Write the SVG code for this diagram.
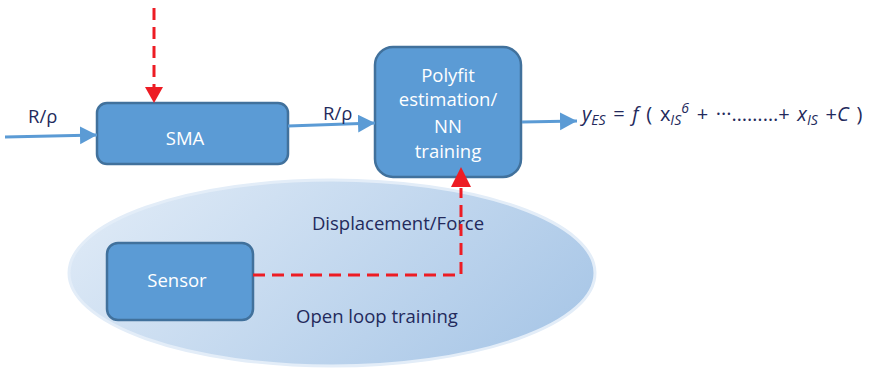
<svg xmlns="http://www.w3.org/2000/svg" width="870" height="372" viewBox="0 0 870 372">
  <defs>
    <linearGradient id="loopFill" x1="0" y1="0.3" x2="1" y2="0.7">
      <stop offset="0" stop-color="#dde9f6"/>
      <stop offset="1" stop-color="#a9c7e7"/>
    </linearGradient>
    <marker id="blueHead" markerUnits="userSpaceOnUse" markerWidth="20" markerHeight="20" refX="17" refY="9" orient="auto">
      <path d="M0,0 L17,9 L0,18 Z" fill="#5b9bd5"/>
    </marker>
  </defs>
  <style>
    .box { fill: #5b9bd5; stroke: #41719c; stroke-width: 2.5; }
    .boxText { fill: #ffffff; font-family: "Open Sans", "Noto Sans", sans-serif; font-size: 18.5px; text-anchor: middle; }
    .label { fill: #232a5c; font-family: "Open Sans", "Noto Sans", sans-serif; font-size: 18.5px; }
    .formula { fill: #232a5c; font-family: "Open Sans", "Noto Sans", sans-serif; font-size: 20px; word-spacing: 2.5px; }
    .flow { stroke: #5b9bd5; stroke-width: 3; fill: none; marker-end: url(#blueHead); }
    .signal { stroke: #ed1c24; stroke-width: 3; fill: none; stroke-dasharray: 12 7; }
    .sub { font-style: italic; font-size: 14px; }
  </style>

  <!-- open loop training region -->
  <g id="openLoop">
    <ellipse cx="332" cy="273" rx="263" ry="93" fill="url(#loopFill)" stroke="#e3edf8" stroke-width="3"/>
    <text class="label" x="398" y="230" text-anchor="middle">Displacement/Force</text>
    <text class="label" x="377" y="323" text-anchor="middle">Open loop training</text>
  </g>

  <g id="sma">
    <rect class="box" x="97" y="103" width="191" height="61" rx="10"/>
    <text class="boxText" x="185" y="145">SMA</text>
  </g>

  <g id="polyfit">
    <rect class="box" x="375" y="47" width="146" height="130" rx="18"/>
    <text class="boxText" x="448" y="82">Polyfit</text>
    <text class="boxText" x="448" y="106">estimation/</text>
    <text class="boxText" x="448" y="133">NN</text>
    <text class="boxText" x="448" y="158">training</text>
  </g>

  <g id="sensor">
    <rect class="box" x="107" y="243" width="146" height="77" rx="11"/>
    <text class="boxText" x="177" y="287">Sensor</text>
  </g>

  <g id="output">
    <text class="formula" x="582" y="121"><tspan font-style="italic">y</tspan><tspan class="sub" dy="4">ES</tspan><tspan dy="-4"> = </tspan><tspan font-style="italic">f</tspan> ( x<tspan class="sub" dy="4">IS</tspan><tspan class="sub" dy="-12">6</tspan><tspan dy="8"> + ···………+ </tspan><tspan font-style="italic">x</tspan><tspan class="sub" dy="4">IS</tspan><tspan dy="-4"> +</tspan><tspan font-style="italic">C</tspan> )</text>
  </g>

  <g id="connectors">
    <line class="flow" x1="5" y1="137" x2="97" y2="135"/>
    <text class="label" x="28" y="123">R/ρ</text>
    <line class="flow" x1="288" y1="126" x2="375" y2="123"/>
    <text class="label" x="323" y="120">R/ρ</text>
    <line class="flow" x1="522" y1="122" x2="577" y2="121"/>
    <line class="signal" x1="154" y1="8" x2="154" y2="90"/>
    <path d="M145,87 L163,87 L154,103 Z" fill="#ed1c24"/>
    <path class="signal" d="M253,275 L461,275 L461,188"/>
    <path d="M451,187 L471,187 L461,167 Z" fill="#ed1c24"/>
  </g>
</svg>
